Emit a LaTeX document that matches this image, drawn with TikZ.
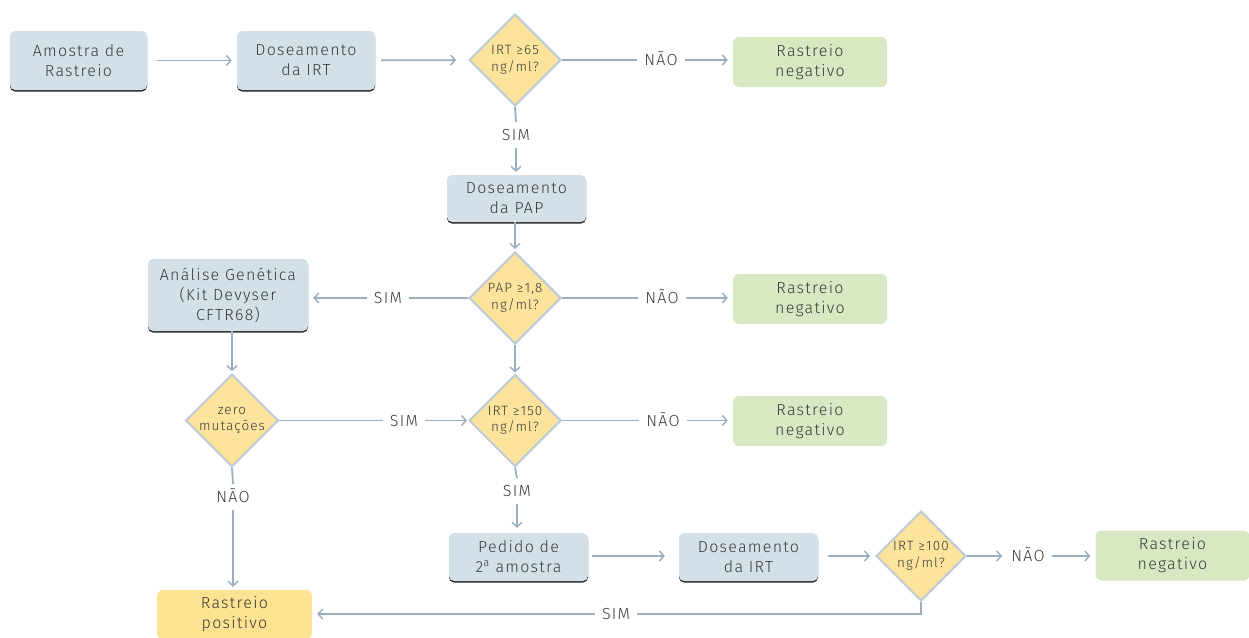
\documentclass[tikz,border=0pt]{standalone}
\usepackage{fontspec}
\setmainfont{Fira Sans}[UprightFont=* Light, LetterSpace=8]
\usetikzlibrary{shapes.geometric,arrows.meta}
\definecolor{boxblue}{HTML}{D3E0E8}
\definecolor{boxgreen}{HTML}{D7E8C3}
\definecolor{boxyellow}{HTML}{FDE391}
\definecolor{dfill}{HTML}{FCE49C}
\definecolor{dline}{HTML}{BCCAD6}
\definecolor{lnc}{HTML}{9BAFC1}
\definecolor{txt}{HTML}{3A3A3A}
\tikzset{
  every node/.style={text=txt},
  boxtxt/.style={font=\fontsize{16}{20}\selectfont, align=center, inner sep=0pt},
  bluebox/.style={boxtxt, fill=boxblue, rounded corners=5pt,
    preaction={fill=black!85, rounded corners=5pt, transform canvas={yshift=-1.5pt}}},
  greenbox/.style={boxtxt, fill=boxgreen, rounded corners=6pt, minimum width=154pt, minimum height=50pt},
  yellowbox/.style={boxtxt, fill=boxyellow, rounded corners=6pt, minimum width=155pt, minimum height=49pt},
  dec/.style={diamond, aspect=1, fill=dfill, draw=dline, line width=2pt, inner sep=0pt,
    minimum width=92pt, minimum height=92pt, align=center, font=\fontsize{13.5}{16.5}\selectfont},
  lbl/.style={font=\fontsize{16}{18}\selectfont, inner xsep=7pt, inner ysep=7pt, text height=11.5pt, text depth=0pt},
  ln/.style={draw=lnc, line width=1.8pt},
  arr/.style={ln, -{Straight Barb[length=4.5pt,width=10pt,line width=1.5pt]}, shorten >=5pt},
}
\begin{document}
\begin{tikzpicture}[x=1pt,y=-1pt]
\useasboundingbox (0,0) rectangle (1249,637);
% boxes
\node[bluebox, minimum width=137pt, minimum height=59pt] (a1) at (78.5,60.5) {Amostra de\\Rastreio};
\node[bluebox, minimum width=138pt, minimum height=59pt] (b1) at (306,60.5) {Doseamento\\da IRT};
\node[dec] (d1) at (515,60) {IRT ≥65\\ng/ml?};
\node[lbl] (n1l) at (661,60) {NÃO};
\node[greenbox] (g1) at (810,62) {Rastreio\\negativo};
\node[lbl] (s1l) at (516,135) {SIM};
\node[bluebox, minimum width=139pt, minimum height=47pt] (pap) at (516.5,198.5) {Doseamento\\da PAP};
\node[dec] (d2) at (515,298) {PAP ≥1,8\\ng/ml?};
\node[lbl] (s2l) at (388,298) {SIM};
\node[bluebox, minimum width=160pt, minimum height=72pt] (gen) at (228,295) {Análise Genética\\(Kit Devyser\\CFTR68)};
\node[lbl] (n2l) at (662,298) {NÃO};
\node[greenbox] (g2) at (810,299) {Rastreio\\negativo};
\node[dec] (d3) at (515,420.5) {IRT ≥150\\ng/ml?};
\node[lbl] (n3l) at (663,420.5) {NÃO};
\node[greenbox] (g3) at (810,421) {Rastreio\\negativo};
\node[lbl] (s3l) at (517,491) {SIM};
\node[bluebox, minimum width=139pt, minimum height=48pt] (ped) at (518.5,557) {Pedido de\\2\textsuperscript{a} amostra};
\node[bluebox, minimum width=139pt, minimum height=48pt] (dos2) at (748.5,557) {Doseamento\\da IRT};
\node[dec, minimum width=90pt, minimum height=90pt] (d4) at (921,556) {IRT ≥100\\ng/ml?};
\node[lbl] (n4l) at (1028,556) {NÃO};
\node[greenbox] (g4) at (1172.5,555.5) {Rastreio\\negativo};
\node[lbl] (s4l) at (616,614) {SIM};
\node[yellowbox] (pos) at (234.5,614.5) {Rastreio\\positivo};
\node[dec] (d5) at (232,420.5) {zero\\mutações};
\node[lbl] (s5l) at (404,420.5) {SIM};
\node[lbl] (n5l) at (233,497) {NÃO};
% connectors
\draw[arr, shorten <=10pt] (a1) -- (b1);
\draw[arr, shorten <=6pt, shorten >=12pt] (b1) -- (d1);
\draw[ln] (d1.east) -- (n1l.west);
\draw[arr] (n1l.east) -- (g1.west |- n1l);
\draw[ln] (d1.south) -- (s1l.north);
\draw[arr, shorten >=3pt] (s1l.south) -- (pap.north -| s1l);
\draw[arr, shorten <=0pt, shorten >=2pt] (pap.south -| d2) -- (d2.north);
\draw[ln] (d2.west) -- (s2l.east);
\draw[arr] (s2l.west) -- (gen.east |- s2l);
\draw[ln] (d2.east) -- (n2l.west);
\draw[arr] (n2l.east) -- (g2.west |- n2l);
\draw[arr, shorten >=1pt] (d2.south) -- (d3.north);
\draw[ln] (d3.east) -- (n3l.west);
\draw[arr] (n3l.east) -- (g3.west |- n3l);
\draw[ln] (d3.south) -- (s3l.north);
\draw[arr] (s3l.south) -- (ped.north -| s3l);
\draw[arr, shorten <=4pt, shorten >=14pt] (ped.east |- 0,556) -- (dos2.west |- 0,556);
\draw[arr, shorten <=10pt] (dos2.east |- d4) -- (d4.west);
\draw[arr, shorten >=2pt] (d4.east) -- (n4l.west);
\draw[arr] (n4l.east) -- (g4.west |- n4l);
\draw[ln] (d4.south) |- (s4l.east);
\draw[arr] (s4l.west) -- (pos.east |- s4l);
\draw[arr, shorten >=2pt] (gen.south -| d5) -- (d5.north);
\draw[ln] (d5.east) -- (s5l.west);
\draw[arr, shorten >=1pt] (s5l.east) -- (d3.west);
\draw[ln] (d5.south) -- (n5l.north);
\draw[arr, shorten >=3pt] (n5l.south) -- (pos.north -| n5l);
\end{tikzpicture}
\end{document}
